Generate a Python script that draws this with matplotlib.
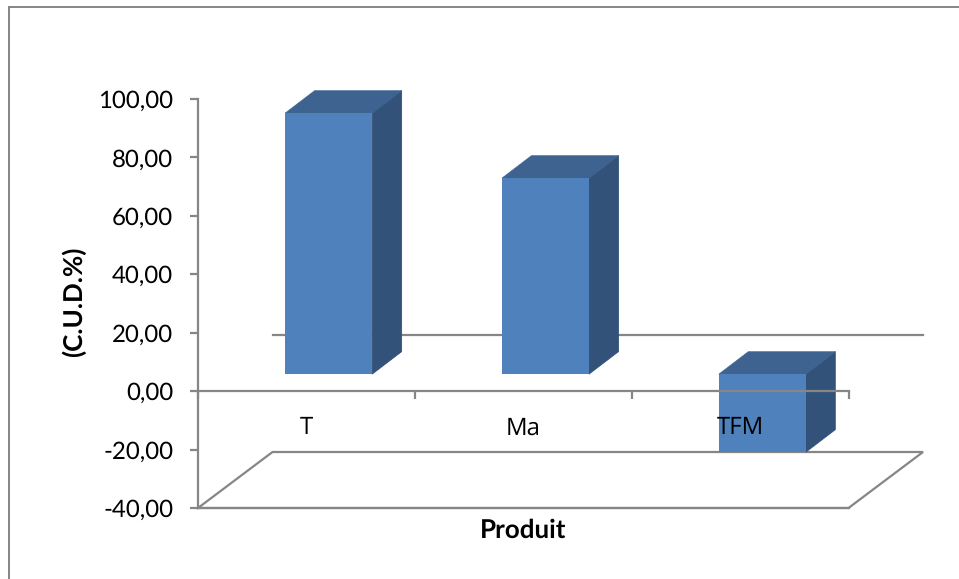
import matplotlib
matplotlib.use("Agg")
import matplotlib.pyplot as plt
from matplotlib.patches import Polygon

categories = ["T", "Ma", "TFM"]
values = [89.35, 67.1, -26.7]
y_ticks = [-40, -20, 0, 20, 40, 60, 80, 100]
y_tick_labels = ["-40,00", "-20,00", "0,00", "20,00", "40,00", "60,00", "80,00", "100,00"]
x_axis_title = "Produit"
y_axis_title = "(C.U.D.%)"

W, H = 959, 579
GREY = "#868686"
FRONT, TOP, SIDE = "#4F81BD", "#3E6391", "#325279"

plt.rcParams["font.family"] = ["Lato", "DejaVu Sans"]
plt.rcParams["text.hinting"] = "no_hinting"
plt.rcParams["text.hinting_factor"] = 1
fig = plt.figure(figsize=(W / 100, H / 100), dpi=100, facecolor="white")

# outer chart frame, cropped on the right and at the bottom
fig.add_artist(plt.Line2D([9 / W, 9 / W], [0, 1 - 6.5 / H], color=GREY, lw=1.4))
fig.add_artist(plt.Line2D([9 / W, 1], [1 - 6.5 / H, 1 - 6.5 / H], color=GREY, lw=1.4))

ax = fig.add_axes([198 / W, 1 - 508 / H, 650.5 / W, 409 / H])
ax.set_xlim(0, 3)
ax.set_ylim(-40, 100)
ax.patch.set_visible(False)
ax.set_axisbelow(False)

# pixel lengths of the oblique projection, expressed in data units
ux, uy = 650.5 / 3, 409 / 140
depth_x, depth_y = 74.5 / ux, 56 / uy
bar_dx, bar_dy = 29.5 / ux, 22.5 / uy
inset_x, inset_y = 22.2 / ux, 17 / uy
bar_w = 87 / ux

# back wall zero line and floor outline
ax.plot([depth_x, 3 + depth_x], [depth_y, depth_y], color=GREY, lw=1.6, zorder=1, clip_on=False)
ax.plot([0, depth_x, 3 + depth_x, 3, 0],
        [-40, -40 + depth_y, -40 + depth_y, -40, -40],
        color=GREY, lw=1.6, zorder=1, clip_on=False, solid_joinstyle="miter")

# three-dimensional columns: side and top faces, then the front face
for i, v in enumerate(values):
    x0 = i + 0.5 + inset_x - bar_w / 2
    x1 = x0 + bar_w
    low = inset_y + min(v, 0)
    high = inset_y + max(v, 0)
    ax.add_patch(Polygon([(x1, low), (x1 + bar_dx, low + bar_dy),
                          (x1 + bar_dx, high + bar_dy), (x1, high)],
                         closed=True, fc=SIDE, ec=SIDE, lw=0.6, zorder=2, clip_on=False))
    ax.add_patch(Polygon([(x0, high), (x0 + bar_dx, high + bar_dy),
                          (x1 + bar_dx, high + bar_dy), (x1, high)],
                         closed=True, fc=TOP, ec=TOP, lw=0.4, zorder=2, clip_on=False))
    ax.bar(i + 0.5 + inset_x, v, width=bar_w, bottom=inset_y, color=FRONT, zorder=2.1, clip_on=False)

for name in ("top", "right"):
    ax.spines[name].set_visible(False)
ax.spines["bottom"].set_position(("data", 0))
for name in ("left", "bottom"):
    ax.spines[name].set_color(GREY)
    ax.spines[name].set_linewidth(1.6)
    ax.spines[name].set_zorder(3)

# front floor edge
ax.axhline(-40, color=GREY, lw=1.6, zorder=3, clip_on=False)

ax.set_yticks(y_ticks, y_tick_labels)
ax.tick_params(axis="y", length=5.8, width=1.6, color=GREY, labelsize=17, pad=12, labelcolor="black")
ax.set_xticks([0, 1, 2, 3], ["", "", "", ""])
ax.tick_params(axis="x", which="major", length=5.8, width=1.6, color=GREY)
ax.set_xticks([0.5, 1.5, 2.5], categories, minor=True)
ax.tick_params(axis="x", which="minor", length=0, pad=18, labelcolor="black")
for lab in ax.get_xticklabels(minor=True):
    lab.set_fontfamily(["Open Sans", "DejaVu Sans"])
    lab.set_fontsize(17)
    lab.set_zorder(5)

fig.text(523 / W, 1 - 530 / H, x_axis_title, fontsize=18.4, fontweight="bold", ha="center", va="center")
fig.text(74 / W, 1 - 302 / H, y_axis_title, fontsize=18.4, fontweight="bold", rotation=90, ha="center", va="center")

fig.savefig("out.png", dpi=100, facecolor="white")
